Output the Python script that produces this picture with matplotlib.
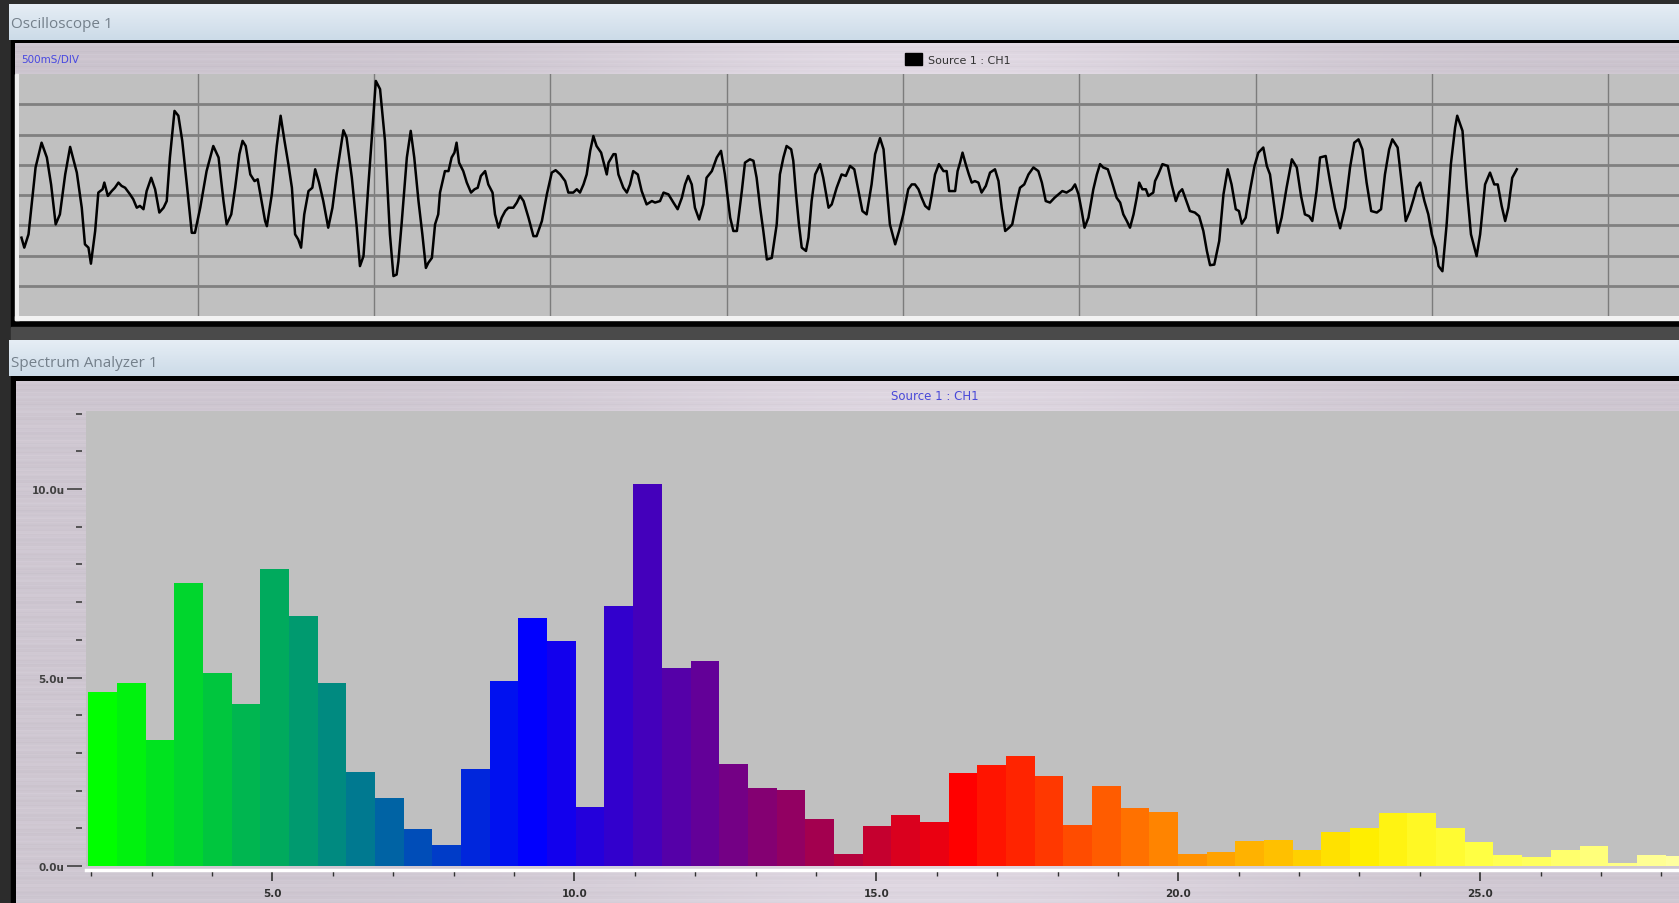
import numpy as np
import matplotlib.pyplot as plt
from matplotlib.colors import LinearSegmentedColormap
from matplotlib.patches import Rectangle, Patch

# ---- oscilloscope trace: (time s, amplitude in divisions) ----
osc_samples = [
    (0.000, -1.41), (0.008, -1.74), (0.020, -1.30), (0.040, 0.91), (0.057, 1.73),
    (0.072, 1.24), (0.084, 0.35), (0.097, -0.97), (0.109, -0.64), (0.124, 0.68),
    (0.138, 1.59), (0.157, 0.74), (0.171, -0.42), (0.180, -1.63), (0.190, -1.74),
    (0.197, -2.27), (0.209, -1.19), (0.218, 0.08), (0.230, 0.19), (0.235, 0.41),
    (0.245, -0.03), (0.256, 0.13), (0.265, 0.24), (0.275, 0.41), (0.284, 0.30),
    (0.294, 0.24), (0.308, 0.02), (0.317, -0.14), (0.327, -0.42), (0.336, -0.36),
    (0.346, -0.47), (0.355, 0.13), (0.368, 0.57), (0.379, 0.19), (0.391, -0.58),
    (0.403, -0.42), (0.412, -0.20), (0.421, 1.24), (0.434, 2.78), (0.445, 2.62),
    (0.456, 1.79), (0.469, 0.35), (0.483, -1.25), (0.492, -1.25), (0.507, -0.42),
    (0.525, 0.79), (0.544, 1.62), (0.559, 1.24), (0.573, -0.20), (0.582, -0.97),
    (0.595, -0.64), (0.606, 0.24), (0.618, 1.35), (0.627, 1.79), (0.636, 1.62),
    (0.649, 0.68), (0.661, 0.46), (0.670, 0.52), (0.680, -0.14), (0.691, -0.86),
    (0.696, -1.03), (0.710, 0.02), (0.724, 1.62), (0.735, 2.62), (0.746, 1.79),
    (0.757, 1.02), (0.767, 0.24), (0.776, -1.30), (0.785, -1.47), (0.793, -1.74),
    (0.802, -0.64), (0.814, 0.13), (0.825, 0.24), (0.833, 0.85), (0.844, 0.41),
    (0.856, -0.20), (0.870, -1.08), (0.882, -0.42), (0.894, 0.68), (0.913, 2.14),
    (0.922, 1.90), (0.937, 0.57), (0.951, -1.08), (0.960, -2.35), (0.970, -2.02),
    (0.984, 0.35), (0.993, 1.79), (1.005, 3.77), (1.017, 3.50), (1.031, 1.79),
    (1.045, -1.30), (1.055, -2.68), (1.064, -2.63), (1.069, -2.19), (1.078, -0.97),
    (1.093, 1.24), (1.104, 2.12), (1.114, 1.24), (1.126, -0.20), (1.137, -1.30),
    (1.147, -2.41), (1.154, -2.24), (1.164, -2.08), (1.173, -0.97), (1.182, -0.64),
    (1.187, 0.08), (1.201, 0.79), (1.211, 0.79), (1.220, 1.24), (1.228, 1.40),
    (1.234, 1.73), (1.241, 1.07), (1.253, 0.79), (1.263, 0.41), (1.275, 0.08),
    (1.285, 0.19), (1.294, 0.24), (1.303, 0.63), (1.315, 0.79), (1.324, 0.35),
    (1.336, 0.08), (1.343, -0.64), (1.353, -1.08), (1.362, -0.75), (1.372, -0.53),
    (1.381, -0.42), (1.395, -0.42), (1.405, -0.25), (1.414, -0.03), (1.424, -0.20),
    (1.438, -0.75), (1.452, -1.36), (1.461, -1.36), (1.476, -0.86), (1.490, 0.02),
    (1.504, 0.74), (1.515, 0.82), (1.528, 0.68), (1.542, 0.46), (1.551, 0.08),
    (1.565, 0.08), (1.575, 0.19), (1.584, 0.08), (1.594, 0.35), (1.603, 0.68),
    (1.613, 1.46), (1.622, 1.95), (1.631, 1.62), (1.644, 1.40), (1.650, 1.13),
    (1.660, 0.68), (1.665, 1.07), (1.679, 1.35), (1.685, 1.35), (1.693, 0.68),
    (1.707, 0.24), (1.717, 0.08), (1.726, 0.35), (1.735, 0.79), (1.748, 0.68),
    (1.759, 0.13), (1.773, -0.31), (1.788, -0.20), (1.797, -0.25), (1.811, -0.20),
    (1.821, 0.08), (1.835, 0.02), (1.849, -0.25), (1.861, -0.47), (1.873, -0.09),
    (1.882, 0.35), (1.891, 0.63), (1.901, 0.35), (1.910, -0.42), (1.922, -0.81),
    (1.934, -0.31), (1.943, 0.57), (1.958, 0.79), (1.972, 1.24), (1.984, 1.46),
    (1.995, 0.68), (2.010, -0.75), (2.019, -1.19), (2.029, -1.19), (2.043, 0.13),
    (2.052, 1.07), (2.066, 1.18), (2.076, 1.13), (2.085, 0.57), (2.095, -0.42),
    (2.104, -1.19), (2.114, -2.13), (2.128, -2.08), (2.142, -0.97), (2.151, 0.68),
    (2.161, 1.24), (2.170, 1.62), (2.183, 1.51), (2.189, 1.13), (2.196, 0.13),
    (2.205, -0.97), (2.213, -1.74), (2.225, -1.85), (2.232, -1.41), (2.241, -0.20),
    (2.251, 0.68), (2.265, 1.02), (2.274, 0.57), (2.289, -0.42), (2.298, -0.31),
    (2.312, 0.24), (2.326, 0.68), (2.338, 0.63), (2.350, 0.96), (2.362, 0.85),
    (2.374, 0.13), (2.385, -0.53), (2.397, -0.64), (2.411, 0.35), (2.421, 1.35),
    (2.435, 1.88), (2.445, 1.51), (2.454, 0.24), (2.463, -0.97), (2.478, -1.63),
    (2.489, -1.19), (2.501, -0.64), (2.515, 0.19), (2.525, 0.35), (2.534, 0.35),
    (2.544, 0.19), (2.553, -0.09), (2.563, -0.36), (2.574, -0.47), (2.582, 0.02),
    (2.591, 0.68), (2.602, 1.02), (2.615, 0.79), (2.624, 0.79), (2.631, 0.13),
    (2.648, 0.13), (2.655, 0.79), (2.662, 1.07), (2.669, 1.40), (2.678, 1.02),
    (2.687, 0.68), (2.695, 0.41), (2.704, 0.46), (2.714, 0.41), (2.723, 0.08),
    (2.735, 0.30), (2.747, 0.74), (2.761, 0.85), (2.771, 0.46), (2.780, -0.42),
    (2.790, -1.19), (2.801, -1.08), (2.810, -0.97), (2.823, -0.20), (2.832, 0.24),
    (2.844, 0.35), (2.856, 0.68), (2.870, 0.91), (2.884, 0.79), (2.894, 0.41),
    (2.905, -0.20), (2.917, -0.25), (2.930, -0.09), (2.941, 0.02), (2.952, 0.13),
    (2.964, 0.08), (2.979, 0.19), (2.988, 0.35), (2.998, 0.02), (3.007, -0.53),
    (3.015, -1.08), (3.026, -0.75), (3.040, 0.19), (3.050, 0.68), (3.059, 1.02),
    (3.068, 0.91), (3.081, 0.85), (3.092, 0.46), (3.106, -0.09), (3.116, -0.25),
    (3.125, -0.64), (3.135, -0.86), (3.144, -1.08), (3.154, -0.64), (3.163, -0.09),
    (3.170, 0.41), (3.179, 0.19), (3.189, 0.19), (3.196, -0.03), (3.210, 0.08),
    (3.215, 0.46), (3.224, 0.68), (3.236, 1.02), (3.251, 0.96), (3.262, 0.35),
    (3.274, -0.20), (3.283, 0.08), (3.292, 0.19), (3.302, -0.14), (3.314, -0.53),
    (3.328, -0.58), (3.340, -0.70), (3.352, -1.19), (3.362, -1.85), (3.371, -2.32),
    (3.383, -2.30), (3.397, -1.52), (3.409, 0.02), (3.421, 0.85), (3.432, 0.35),
    (3.444, -0.47), (3.453, -0.53), (3.461, -0.95), (3.472, -0.75), (3.484, 0.13),
    (3.497, 0.96), (3.508, 1.40), (3.522, 1.57), (3.532, 0.96), (3.541, 0.68),
    (3.551, -0.20), (3.563, -1.25), (3.574, -0.75), (3.588, 0.24), (3.603, 1.18),
    (3.617, 0.91), (3.629, -0.03), (3.640, -0.64), (3.652, -0.70), (3.661, -0.86),
    (3.673, 0.13), (3.683, 1.24), (3.699, 1.29), (3.711, 0.46), (3.725, -0.42),
    (3.740, -1.10), (3.754, -0.42), (3.768, 0.91), (3.780, 1.73), (3.792, 1.84),
    (3.803, 1.51), (3.815, 0.41), (3.828, -0.53), (3.844, -0.58), (3.856, -0.47),
    (3.867, 0.68), (3.879, 1.51), (3.888, 1.84), (3.903, 1.57), (3.915, 0.35),
    (3.926, -0.86), (3.938, -0.53), (3.948, -0.14), (3.957, 0.24), (3.967, 0.41),
    (3.979, -0.20), (3.990, -0.64), (4.000, -1.30), (4.011, -1.74), (4.019, -2.35),
    (4.030, -2.52), (4.042, -0.97), (4.054, 1.02), (4.066, 2.23), (4.072, 2.62),
    (4.087, 2.12), (4.099, 0.24), (4.111, -1.30), (4.127, -2.02), (4.137, -1.30),
    (4.151, 0.35), (4.165, 0.74), (4.177, 0.35), (4.187, 0.35), (4.198, -0.36),
    (4.208, -0.86), (4.217, -0.42), (4.228, 0.57), (4.241, 0.85),
]
osc_time = [p[0] for p in osc_samples]
osc_amp = [p[1] for p in osc_samples]

# ---- spectrum bins ----
bin_start = 1.953     # left edge of first bin
bin_width = 0.4748
spec_mag = [
    4.62, 4.85, 3.35, 7.50, 5.12, 4.30, 7.87, 6.64, 4.85, 2.50,
    1.80, 0.99, 0.57, 2.56, 4.91, 6.59, 5.97, 1.56, 6.90, 10.14,
    5.26, 5.43, 2.70, 2.07, 2.02, 1.25, 0.31, 1.05, 1.34, 1.16,
    2.47, 2.67, 2.93, 2.39, 1.08, 2.13, 1.53, 1.42, 0.31, 0.37,
    0.65, 0.68, 0.43, 0.91, 1.01, 1.41, 1.41, 1.01, 0.63, 0.29,
    0.23, 0.43, 0.52, 0.07, 0.29, 0.26,
]
x_major = [5, 10, 15, 20, 25]
x_major_labels = ["5.0", "10.0", "15.0", "20.0", "25.0"]
y_major = [0, 5, 10]
y_major_labels = ["0.0u", "5.0u", "10.0u"]

W, H = 1679, 904
fig = plt.figure(figsize=(W / 100, H / 100), dpi=100, facecolor="#303030")


def px_axes(x0, y0, x1, y1):
    return fig.add_axes([x0 / W, 1 - y1 / H, (x1 - x0) / W, (y1 - y0) / H])


def metal(h, w, base, glow_at=0.5, glow=0.05):
    # brushed-metal look: faint horizontal streaks + a soft highlight
    rows = np.arange(h)[:, None]
    cols = np.linspace(0, 1, w)[None, :]
    streak = (0.008 * np.sin(rows * 1.3) + 0.007 * np.sin(rows * 0.41 + 2.0)
              + 0.005 * np.sin(rows * 2.9 + 0.7))
    light = glow * np.exp(-((cols - glow_at) / 0.22) ** 2)
    img = np.array(base)[None, None, :] + (streak + light)[..., None]
    return np.clip(img, 0, 1)


def vgrad(h, top, bottom):
    t = np.linspace(0, 1, h)[:, None, None]
    return (1 - t) * np.array(top) + t * np.array(bottom)


# background / window chrome (drawn in pixel coordinates, top-down)
bg = px_axes(0, 0, W, H)
bg.axis("off")
bg.add_patch(Rectangle((0, 0), W, H, color="#2c2c2c", zorder=0))
bg.add_patch(Rectangle((11, 41), W, 287, color="black", zorder=1))
bg.add_patch(Rectangle((11, 377), W, 600, color="black", zorder=1))
bg.add_patch(Rectangle((11, 328), W, 13, color="#4a4a4a", zorder=1))
bg.imshow(vgrad(36, (0.90, 0.93, 0.96), (0.80, 0.86, 0.91)), extent=(9, W, 41, 5),
          aspect="auto", zorder=2)
bg.imshow(vgrad(36, (0.90, 0.93, 0.96), (0.80, 0.86, 0.91)), extent=(9, W, 377, 341),
          aspect="auto", zorder=2)
bg.imshow(metal(31, 400, (0.80, 0.77, 0.81), 0.55, 0.08), extent=(15, W, 75, 44),
          aspect="auto", zorder=2)
bg.imshow(metal(522, 400, (0.81, 0.78, 0.82), 0.55, 0.06), extent=(16, W, H, 382),
          aspect="auto", zorder=2)
bg.add_patch(Rectangle((15, 75), 4, 246, color="#ececec", zorder=3))
bg.add_patch(Rectangle((15, 317), W, 4, color="#f2f2f2", zorder=3))
bg.set_xlim(0, W)
bg.set_ylim(H, 0)

bg.text(11, 25, "Oscilloscope 1", color="#74808b", fontsize=11, va="center",
        family="Open Sans", zorder=4)
bg.text(11, 364, "Spectrum Analyzer 1", color="#74808b", fontsize=11, va="center",
        family="Open Sans", zorder=4)
bg.text(21, 60, "500mS/DIV", color="#4848e0", fontsize=7.5, va="center", zorder=4)
bg.text(935, 397, "Source 1 : CH1", color="#4848d8", fontsize=8.5, va="center",
        ha="center", zorder=4)

# oscilloscope
ax1 = px_axes(19, 75, W, 317)
ax1.set_facecolor("#c0c0c0")
ax1.plot(osc_time, osc_amp, color="black", lw=1.8)
ax1.set_xlim(-0.007, 4.701)
ax1.set_ylim(-4, 4)
ax1.set_xticks(np.arange(0.5, 4.6, 0.5))
ax1.set_yticks(range(-3, 4))
ax1.tick_params(length=0, labelbottom=False, labelleft=False)
ax1.grid(axis="x", color="#7c7c7c", lw=1.0)
ax1.grid(axis="y", color="#808080", lw=2.0)
ax1.set_axisbelow(True)
for s in ax1.spines.values():
    s.set_visible(False)
ax1.legend(handles=[Patch(facecolor="black", edgecolor="black")], labels=["Source 1 : CH1"],
           loc="center left", bbox_to_anchor=(0.5275, 1.062), frameon=False, fontsize=8,
           handlelength=1.6, handleheight=1.4, handletextpad=0.5, labelcolor="#333333")

# spectrum
ax2 = px_axes(86, 412, W, 867)
ax2.set_facecolor("#c0c0c0")
cmap = LinearSegmentedColormap.from_list("spec", [
    (0.00, "#00ff00"), (0.145, "#008a80"), (0.27, "#0000ff"), (0.345, "#4400bb"),
    (0.47, "#b00040"), (0.545, "#ff0000"), (0.67, "#ff8000"), (0.80, "#ffee00"),
    (0.87, "#ffff40"), (1.00, "#ffffa0")])
n = len(spec_mag)
edges = [bin_start + i * bin_width for i in range(n)]
ax2.bar(edges, spec_mag, width=bin_width, align="edge",
        color=[cmap(i / (n - 1)) for i in range(n)], linewidth=0)
ax2.set_xlim(1.915, 28.29)
ax2.set_ylim(0, 12.07)
ax2.set_xticks(x_major)
ax2.set_xticklabels(x_major_labels)
ax2.set_xticks(range(2, 29), minor=True)
ax2.set_yticks(y_major)
ax2.set_yticklabels(y_major_labels)
ax2.set_yticks(range(0, 13), minor=True)
for s in ["top", "right", "left"]:
    ax2.spines[s].set_visible(False)
ax2.spines["left"].set_position(("outward", 3))
ax2.spines["bottom"].set_color("white")
ax2.spines["bottom"].set_linewidth(2.5)
ax2.spines["bottom"].set_position(("outward", 3))
ax2.tick_params(axis="x", which="major", length=8, width=1.2, color="#303030",
                pad=4.5, labelsize=7.5, labelcolor="#303030")
ax2.tick_params(axis="x", which="minor", length=4, width=1.0, color="#303030")
ax2.tick_params(axis="y", which="major", length=11, width=1.2, color="#404040",
                pad=1.5, labelsize=7.5, labelcolor="#404040")
ax2.tick_params(axis="y", which="minor", length=4, width=1.2, color="#404040")
for lab in ax2.get_xticklabels() + ax2.get_yticklabels():
    lab.set_fontweight("bold")

fig.savefig("out.png", dpi=100, facecolor=fig.get_facecolor())
